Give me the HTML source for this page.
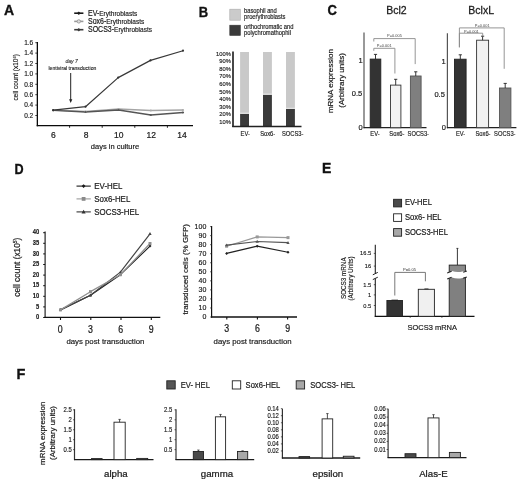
<!DOCTYPE html>
<html><head><meta charset="utf-8"><style>
html,body{margin:0;padding:0;background:#fff;width:520px;height:483px;overflow:hidden}
svg{display:block;font-family:"Liberation Sans", sans-serif}
svg{filter:blur(0.45px)}
</style></head><body>
<svg width="520" height="483" viewBox="0 0 520 483">
<text x="3.90" y="15.40" font-size="14" text-anchor="start" font-weight="bold" fill="#111" stroke="#111" stroke-width="0.336">A</text>
<line x1="74.20" y1="13.20" x2="83.40" y2="13.20" stroke="#1a1a1a" stroke-width="1.6"/>
<path d="M78.8 11.399999999999999 L80.6 13.2 L78.8 15.0 L77 13.2 Z" fill="#1a1a1a"/>
<text x="88.00" y="16.00" font-size="7" text-anchor="start" fill="#1a1a1a" stroke="#1a1a1a" stroke-width="0.168" transform="matrix(1 0 0 1.17 0 -2.720)">EV-</text>
<text x="99.28" y="15.70" font-size="6.5" text-anchor="start" fill="#1a1a1a" stroke="#1a1a1a" stroke-width="0.156">Erythroblasts</text>
<line x1="74.20" y1="21.40" x2="83.40" y2="21.40" stroke="#999" stroke-width="1.6"/>
<circle cx="78.8" cy="21.4" r="1.7" fill="#ddd" stroke="#999" stroke-width="0.9"/>
<text x="88.00" y="24.20" font-size="7" text-anchor="start" fill="#1a1a1a" stroke="#1a1a1a" stroke-width="0.168" transform="matrix(1 0 0 1.17 0 -4.114)">Sox6-</text>
<text x="106.28" y="23.90" font-size="6.5" text-anchor="start" fill="#1a1a1a" stroke="#1a1a1a" stroke-width="0.156">Erythroblasts</text>
<line x1="74.20" y1="29.70" x2="83.40" y2="29.70" stroke="#3a3a3a" stroke-width="1.6"/>
<path d="M78.8 27.900000000000002 L80.6 29.700000000000003 L78.8 31.500000000000004 L77 29.700000000000003 Z" fill="#3a3a3a"/>
<text x="88.00" y="32.50" font-size="7" text-anchor="start" fill="#1a1a1a" stroke="#1a1a1a" stroke-width="0.168" transform="matrix(1 0 0 1.17 0 -5.525)">SOCS3-</text>
<text x="114.06" y="32.20" font-size="6.5" text-anchor="start" fill="#1a1a1a" stroke="#1a1a1a" stroke-width="0.156">Erythroblasts</text>
<line x1="37.35" y1="42.00" x2="37.35" y2="126.20" stroke="#0a0a0a" stroke-width="1.3"/>
<line x1="36.70" y1="125.65" x2="193.00" y2="125.65" stroke="#0a0a0a" stroke-width="1.3"/>
<line x1="35.30" y1="115.50" x2="37.00" y2="115.50" stroke="#111" stroke-width="0.8"/>
<text x="33.20" y="117.80" font-size="6.5" text-anchor="end" fill="#1a1a1a" stroke="#1a1a1a" stroke-width="0.156">0.2</text>
<line x1="35.30" y1="105.10" x2="37.00" y2="105.10" stroke="#111" stroke-width="0.8"/>
<text x="33.20" y="107.40" font-size="6.5" text-anchor="end" fill="#1a1a1a" stroke="#1a1a1a" stroke-width="0.156">0.4</text>
<line x1="35.30" y1="94.70" x2="37.00" y2="94.70" stroke="#111" stroke-width="0.8"/>
<text x="33.20" y="97.00" font-size="6.5" text-anchor="end" fill="#1a1a1a" stroke="#1a1a1a" stroke-width="0.156">0.6</text>
<line x1="35.30" y1="84.30" x2="37.00" y2="84.30" stroke="#111" stroke-width="0.8"/>
<text x="33.20" y="86.60" font-size="6.5" text-anchor="end" fill="#1a1a1a" stroke="#1a1a1a" stroke-width="0.156">0.8</text>
<line x1="35.30" y1="73.90" x2="37.00" y2="73.90" stroke="#111" stroke-width="0.8"/>
<text x="33.20" y="76.20" font-size="6.5" text-anchor="end" fill="#1a1a1a" stroke="#1a1a1a" stroke-width="0.156">1.0</text>
<line x1="35.30" y1="63.50" x2="37.00" y2="63.50" stroke="#111" stroke-width="0.8"/>
<text x="33.20" y="65.80" font-size="6.5" text-anchor="end" fill="#1a1a1a" stroke="#1a1a1a" stroke-width="0.156">1.2</text>
<line x1="35.30" y1="53.10" x2="37.00" y2="53.10" stroke="#111" stroke-width="0.8"/>
<text x="33.20" y="55.40" font-size="6.5" text-anchor="end" fill="#1a1a1a" stroke="#1a1a1a" stroke-width="0.156">1.4</text>
<line x1="35.30" y1="42.70" x2="37.00" y2="42.70" stroke="#111" stroke-width="0.8"/>
<text x="33.20" y="45.00" font-size="6.5" text-anchor="end" fill="#1a1a1a" stroke="#1a1a1a" stroke-width="0.156">1.6</text>
<line x1="69.60" y1="125.60" x2="69.60" y2="127.80" stroke="#111" stroke-width="0.9"/>
<line x1="102.20" y1="125.60" x2="102.20" y2="127.80" stroke="#111" stroke-width="0.9"/>
<line x1="134.80" y1="125.60" x2="134.80" y2="127.80" stroke="#111" stroke-width="0.9"/>
<line x1="167.40" y1="125.60" x2="167.40" y2="127.80" stroke="#111" stroke-width="0.9"/>
<text x="53.30" y="138.00" font-size="8.5" text-anchor="middle" fill="#1a1a1a" stroke="#1a1a1a" stroke-width="0.204">6</text>
<text x="86.00" y="138.00" font-size="8.5" text-anchor="middle" fill="#1a1a1a" stroke="#1a1a1a" stroke-width="0.204">8</text>
<text x="118.70" y="138.00" font-size="8.5" text-anchor="middle" fill="#1a1a1a" stroke="#1a1a1a" stroke-width="0.204">10</text>
<text x="151.30" y="138.00" font-size="8.5" text-anchor="middle" fill="#1a1a1a" stroke="#1a1a1a" stroke-width="0.204">12</text>
<text x="182.00" y="138.00" font-size="8.5" text-anchor="middle" fill="#1a1a1a" stroke="#1a1a1a" stroke-width="0.204">14</text>
<text x="115.00" y="149.30" font-size="7.5" text-anchor="middle" fill="#1a1a1a" stroke="#1a1a1a" stroke-width="0.180">days in culture</text>
<text x="18.2" y="77.3" font-size="6.5" text-anchor="middle" fill="#1a1a1a" transform="rotate(-90 18.2 77.3)" stroke="#1a1a1a" stroke-width="0.156">cell count (x10<tspan font-size="4" dy="-2.5">6</tspan><tspan dy="2.5">)</tspan></text>
<line x1="70.70" y1="73.00" x2="70.70" y2="100.00" stroke="#222" stroke-width="1"/>
<path d="M69.1 99.2 L70.7 103 L72.3 99.2 Z" fill="#222" stroke="none" stroke-width="1"/>
<text x="71.70" y="63.20" font-size="5.1" text-anchor="middle" fill="#333" font-style="italic" stroke="#333" stroke-width="0.122">day 7</text>
<text x="72.40" y="69.50" font-size="5.1" text-anchor="middle" fill="#1a1a1a" stroke="#1a1a1a" stroke-width="0.122">lentiviral transduction</text>
<path d="M53.20 110.00 L85.50 111.50 L118.50 109.00 L150.80 110.50 L183.00 110.00" fill="none" stroke="#a5a5a5" stroke-width="1.3" stroke-linejoin="round"/>
<path d="M53.20 110.30 L85.50 112.00 L118.50 110.00 L150.80 115.00 L183.00 112.50" fill="none" stroke="#555" stroke-width="1.3" stroke-linejoin="round"/>
<path d="M53.20 110.20 L85.50 106.70 L118.20 77.60 L150.50 60.40 L183.00 50.70" fill="none" stroke="#383838" stroke-width="1.2" stroke-linejoin="round"/>
<circle cx="53.2" cy="110" r="1.1" fill="#aaa"/>
<circle cx="85.5" cy="111.5" r="1.1" fill="#aaa"/>
<circle cx="118.5" cy="109" r="1.1" fill="#aaa"/>
<circle cx="150.8" cy="110.5" r="1.1" fill="#aaa"/>
<circle cx="183" cy="110" r="1.1" fill="#aaa"/>
<circle cx="53.2" cy="110.3" r="1.1" fill="#555"/>
<circle cx="85.5" cy="112" r="1.1" fill="#555"/>
<circle cx="118.5" cy="110" r="1.1" fill="#555"/>
<circle cx="150.8" cy="115" r="1.1" fill="#555"/>
<circle cx="183" cy="112.5" r="1.1" fill="#555"/>
<circle cx="53.2" cy="110.2" r="1.1" fill="#333"/>
<circle cx="85.5" cy="106.7" r="1.1" fill="#333"/>
<circle cx="118.2" cy="77.6" r="1.1" fill="#333"/>
<circle cx="150.5" cy="60.4" r="1.1" fill="#333"/>
<circle cx="183" cy="50.7" r="1.1" fill="#333"/>
<text x="198.70" y="16.80" font-size="14.5" text-anchor="start" font-weight="bold" fill="#111" textLength="9.40" lengthAdjust="spacingAndGlyphs" stroke="#111" stroke-width="0.348">B</text>
<rect x="229.80" y="9.20" width="10.50" height="11.00" fill="#cbcbcb" stroke="#aaa" stroke-width="0.6"/>
<rect x="229.80" y="25.20" width="10.50" height="10.20" fill="#3a3a3a" stroke="#333" stroke-width="0.6"/>
<text x="244.00" y="12.80" font-size="5.8" text-anchor="start" fill="#1a1a1a" stroke="#1a1a1a" stroke-width="0.139" transform="matrix(1 0 0 1.1 0 -1.280)">basophil and</text>
<text x="244.00" y="19.30" font-size="5.8" text-anchor="start" fill="#1a1a1a" stroke="#1a1a1a" stroke-width="0.139" transform="matrix(1 0 0 1.1 0 -1.930)">proerythroblasts</text>
<text x="244.00" y="29.00" font-size="5.8" text-anchor="start" fill="#1a1a1a" stroke="#1a1a1a" stroke-width="0.139" transform="matrix(1 0 0 1.1 0 -2.900)">orthochromatic and</text>
<text x="244.00" y="35.40" font-size="5.8" text-anchor="start" fill="#1a1a1a" stroke="#1a1a1a" stroke-width="0.139" transform="matrix(1 0 0 1.1 0 -3.540)">polychromathophil</text>
<text x="230.90" y="55.70" font-size="5.8" text-anchor="end" fill="#1a1a1a" stroke="#1a1a1a" stroke-width="0.139">100%</text>
<text x="230.90" y="63.28" font-size="5.8" text-anchor="end" fill="#1a1a1a" stroke="#1a1a1a" stroke-width="0.139">90%</text>
<text x="230.90" y="70.86" font-size="5.8" text-anchor="end" fill="#1a1a1a" stroke="#1a1a1a" stroke-width="0.139">80%</text>
<text x="230.90" y="78.44" font-size="5.8" text-anchor="end" fill="#1a1a1a" stroke="#1a1a1a" stroke-width="0.139">70%</text>
<text x="230.90" y="86.02" font-size="5.8" text-anchor="end" fill="#1a1a1a" stroke="#1a1a1a" stroke-width="0.139">60%</text>
<text x="230.90" y="93.60" font-size="5.8" text-anchor="end" fill="#1a1a1a" stroke="#1a1a1a" stroke-width="0.139">50%</text>
<text x="230.90" y="101.18" font-size="5.8" text-anchor="end" fill="#1a1a1a" stroke="#1a1a1a" stroke-width="0.139">40%</text>
<text x="230.90" y="108.76" font-size="5.8" text-anchor="end" fill="#1a1a1a" stroke="#1a1a1a" stroke-width="0.139">30%</text>
<text x="230.90" y="116.34" font-size="5.8" text-anchor="end" fill="#1a1a1a" stroke="#1a1a1a" stroke-width="0.139">20%</text>
<text x="230.90" y="123.92" font-size="5.8" text-anchor="end" fill="#1a1a1a" stroke="#1a1a1a" stroke-width="0.139">10%</text>
<rect x="240.10" y="52.00" width="8.90" height="61.75" fill="#c9c9c9"/>
<rect x="240.10" y="113.75" width="8.90" height="12.25" fill="#3a3a3a"/>
<line x1="240.10" y1="113.25" x2="249.00" y2="113.25" stroke="#f6f6f6" stroke-width="0.9"/>
<rect x="263.00" y="52.00" width="8.90" height="42.70" fill="#c9c9c9"/>
<rect x="263.00" y="94.70" width="8.90" height="31.30" fill="#3a3a3a"/>
<line x1="263.00" y1="94.20" x2="271.90" y2="94.20" stroke="#f6f6f6" stroke-width="0.9"/>
<rect x="286.00" y="52.00" width="8.90" height="56.80" fill="#c9c9c9"/>
<rect x="286.00" y="108.80" width="8.90" height="17.20" fill="#3a3a3a"/>
<line x1="286.00" y1="108.30" x2="294.90" y2="108.30" stroke="#f6f6f6" stroke-width="0.9"/>
<line x1="233.00" y1="51.50" x2="233.00" y2="127.00" stroke="#333" stroke-width="1.8"/>
<line x1="232.20" y1="126.50" x2="301.50" y2="126.50" stroke="#222" stroke-width="1.4"/>
<text x="245.20" y="136.10" font-size="6.5" text-anchor="middle" fill="#1a1a1a" textLength="9.30" lengthAdjust="spacingAndGlyphs" stroke="#1a1a1a" stroke-width="0.156">EV-</text>
<text x="267.70" y="136.10" font-size="6.5" text-anchor="middle" fill="#1a1a1a" textLength="15.10" lengthAdjust="spacingAndGlyphs" stroke="#1a1a1a" stroke-width="0.156">Sox6-</text>
<text x="292.70" y="136.10" font-size="6.5" text-anchor="middle" fill="#1a1a1a" textLength="21.40" lengthAdjust="spacingAndGlyphs" stroke="#1a1a1a" stroke-width="0.156">SOCS3-</text>
<text x="327.50" y="14.80" font-size="14.5" text-anchor="start" font-weight="bold" fill="#111" textLength="9.40" lengthAdjust="spacingAndGlyphs" stroke="#111" stroke-width="0.348">C</text>
<text x="396.40" y="14.40" font-size="10.5" text-anchor="middle" fill="#1a1a1a" stroke="#1a1a1a" stroke-width="0.252">Bcl2</text>
<text x="481.20" y="13.80" font-size="10.5" text-anchor="middle" fill="#1a1a1a" stroke="#1a1a1a" stroke-width="0.252">BclxL</text>
<text x="333.5" y="81.1" font-size="8" text-anchor="middle" fill="#1a1a1a" transform="rotate(-90 333.5 81.1)" stroke="#1a1a1a" stroke-width="0.192">mRNA expression</text>
<text x="343.8" y="80.4" font-size="8" text-anchor="middle" fill="#1a1a1a" transform="rotate(-90 343.8 80.4)" stroke="#1a1a1a" stroke-width="0.192">(Arbitrary units)</text>
<line x1="364.00" y1="32.50" x2="364.00" y2="128.20" stroke="#555" stroke-width="1.2"/>
<line x1="363.50" y1="127.70" x2="426.50" y2="127.70" stroke="#222" stroke-width="1.2"/>
<rect x="370.20" y="59.10" width="10.60" height="68.60" fill="#333" stroke="#222" stroke-width="0.9"/>
<line x1="375.50" y1="54.40" x2="375.50" y2="59.10" stroke="#222" stroke-width="0.9"/>
<line x1="373.90" y1="54.40" x2="377.10" y2="54.40" stroke="#222" stroke-width="0.9"/>
<rect x="390.50" y="85.10" width="10.40" height="42.60" fill="#f2f2f2" stroke="#333" stroke-width="0.9"/>
<line x1="395.70" y1="79.30" x2="395.70" y2="85.10" stroke="#222" stroke-width="0.9"/>
<line x1="394.10" y1="79.30" x2="397.30" y2="79.30" stroke="#222" stroke-width="0.9"/>
<rect x="410.40" y="76.00" width="10.70" height="51.70" fill="#7f7f7f" stroke="#555" stroke-width="0.9"/>
<line x1="415.75" y1="71.80" x2="415.75" y2="76.00" stroke="#222" stroke-width="0.9"/>
<line x1="414.15" y1="71.80" x2="417.35" y2="71.80" stroke="#222" stroke-width="0.9"/>
<path d="M373.8 41.5 L373.8 38.6 L415.2 38.6 L415.2 64.1" fill="none" stroke="#8a8a8a" stroke-width="0.9"/>
<text x="394.50" y="37.40" font-size="3.95" text-anchor="middle" fill="#444" stroke="none" transform="matrix(1 0 0 1.1 0 -3.740)">P=0.005</text>
<path d="M373.8 50.8 L373.8 48.3 L394.9 48.3 L394.9 73.5" fill="none" stroke="#8a8a8a" stroke-width="0.9"/>
<text x="384.20" y="47.40" font-size="3.95" text-anchor="middle" fill="#444" stroke="none" transform="matrix(1 0 0 1.1 0 -4.740)">P=0.001</text>
<text x="375.00" y="136.30" font-size="6.5" text-anchor="middle" fill="#1a1a1a" textLength="9.30" lengthAdjust="spacingAndGlyphs" stroke="#1a1a1a" stroke-width="0.156">EV-</text>
<text x="396.90" y="136.30" font-size="6.5" text-anchor="middle" fill="#1a1a1a" textLength="15.10" lengthAdjust="spacingAndGlyphs" stroke="#1a1a1a" stroke-width="0.156">Sox6-</text>
<text x="418.30" y="136.30" font-size="6.5" text-anchor="middle" fill="#1a1a1a" textLength="21.40" lengthAdjust="spacingAndGlyphs" stroke="#1a1a1a" stroke-width="0.156">SOCS3-</text>
<text x="362.60" y="63.10" font-size="7.5" text-anchor="end" fill="#1a1a1a" stroke="#1a1a1a" stroke-width="0.180">1</text>
<text x="362.30" y="95.60" font-size="7.5" text-anchor="end" fill="#1a1a1a" stroke="#1a1a1a" stroke-width="0.180">0.5</text>
<text x="362.60" y="129.70" font-size="7.5" text-anchor="end" fill="#1a1a1a" stroke="#1a1a1a" stroke-width="0.180">0</text>
<line x1="447.40" y1="33.20" x2="447.40" y2="128.20" stroke="#555" stroke-width="1.2"/>
<line x1="446.90" y1="127.70" x2="516.40" y2="127.70" stroke="#222" stroke-width="1.2"/>
<rect x="454.50" y="59.20" width="11.60" height="68.50" fill="#333" stroke="#222" stroke-width="0.9"/>
<line x1="460.30" y1="54.80" x2="460.30" y2="59.20" stroke="#222" stroke-width="0.9"/>
<line x1="458.70" y1="54.80" x2="461.90" y2="54.80" stroke="#222" stroke-width="0.9"/>
<rect x="476.60" y="40.20" width="12.00" height="87.50" fill="#f2f2f2" stroke="#333" stroke-width="0.9"/>
<line x1="482.60" y1="36.20" x2="482.60" y2="40.20" stroke="#222" stroke-width="0.9"/>
<line x1="481.00" y1="36.20" x2="484.20" y2="36.20" stroke="#222" stroke-width="0.9"/>
<rect x="499.50" y="88.00" width="11.40" height="39.70" fill="#7f7f7f" stroke="#555" stroke-width="0.9"/>
<line x1="505.20" y1="83.40" x2="505.20" y2="88.00" stroke="#222" stroke-width="0.9"/>
<line x1="503.60" y1="83.40" x2="506.80" y2="83.40" stroke="#222" stroke-width="0.9"/>
<path d="M459.4 47.3 L459.4 27.9 L504.2 27.9 L504.2 68.8" fill="none" stroke="#8a8a8a" stroke-width="0.9"/>
<text x="482.20" y="26.90" font-size="3.95" text-anchor="middle" fill="#444" stroke="none" transform="matrix(1 0 0 1.1 0 -2.690)">P=0.001</text>
<path d="M459.4 47.3 L459.4 33.2 L482.7 33.2 L482.7 36.4" fill="none" stroke="#8a8a8a" stroke-width="0.9"/>
<text x="471.40" y="32.80" font-size="3.95" text-anchor="middle" fill="#444" stroke="none" transform="matrix(1 0 0 1.1 0 -3.280)">P=0.001</text>
<text x="460.60" y="136.30" font-size="6.5" text-anchor="middle" fill="#1a1a1a" textLength="9.30" lengthAdjust="spacingAndGlyphs" stroke="#1a1a1a" stroke-width="0.156">EV-</text>
<text x="483.00" y="136.30" font-size="6.5" text-anchor="middle" fill="#1a1a1a" textLength="15.10" lengthAdjust="spacingAndGlyphs" stroke="#1a1a1a" stroke-width="0.156">Sox6-</text>
<text x="504.80" y="136.30" font-size="6.5" text-anchor="middle" fill="#1a1a1a" textLength="21.40" lengthAdjust="spacingAndGlyphs" stroke="#1a1a1a" stroke-width="0.156">SOCS3-</text>
<text x="445.60" y="64.00" font-size="7.5" text-anchor="end" fill="#1a1a1a" stroke="#1a1a1a" stroke-width="0.180">1</text>
<text x="444.90" y="96.90" font-size="7.5" text-anchor="end" fill="#1a1a1a" stroke="#1a1a1a" stroke-width="0.180">0.5</text>
<text x="445.90" y="130.10" font-size="7.5" text-anchor="end" fill="#1a1a1a" stroke="#1a1a1a" stroke-width="0.180">0</text>
<text x="14.50" y="174.40" font-size="14.5" text-anchor="start" font-weight="bold" fill="#111" textLength="9.10" lengthAdjust="spacingAndGlyphs" stroke="#111" stroke-width="0.348">D</text>
<line x1="76.50" y1="186.10" x2="90.80" y2="186.10" stroke="#1a1a1a" stroke-width="1.1"/>
<path d="M83.6 184.2 L85.5 186.1 L83.6 188.0 L81.69999999999999 186.1 Z" fill="#1a1a1a"/>
<text x="94.30" y="188.90" font-size="7.9" text-anchor="start" fill="#1a1a1a" stroke="#1a1a1a" stroke-width="0.190" transform="matrix(1 0 0 1.1 0 -18.890)">EV-HEL</text>
<line x1="76.50" y1="198.90" x2="90.80" y2="198.90" stroke="#9a9a9a" stroke-width="1.1"/>
<rect x="81.69999999999999" y="197.0" width="3.8" height="3.8" fill="#8a8a8a"/>
<text x="94.30" y="201.70" font-size="7.9" text-anchor="start" fill="#1a1a1a" stroke="#1a1a1a" stroke-width="0.190" transform="matrix(1 0 0 1.1 0 -20.170)">Sox6-HEL</text>
<line x1="76.50" y1="211.90" x2="90.80" y2="211.90" stroke="#333" stroke-width="1.1"/>
<path d="M83.6 209.81 L85.69 213.42000000000002 L81.50999999999999 213.42000000000002 Z" fill="#333"/>
<text x="94.30" y="214.70" font-size="7.9" text-anchor="start" fill="#1a1a1a" stroke="#1a1a1a" stroke-width="0.190" transform="matrix(1 0 0 1.1 0 -21.470)">SOCS3-HEL</text>
<line x1="45.10" y1="231.60" x2="45.10" y2="318.00" stroke="#111" stroke-width="1.1"/>
<line x1="44.30" y1="317.40" x2="160.30" y2="317.40" stroke="#111" stroke-width="1.3"/>
<line x1="43.20" y1="317.50" x2="45.10" y2="317.50" stroke="#111" stroke-width="1.0"/>
<text x="39.20" y="319.30" font-size="5.8" text-anchor="end" font-weight="bold" fill="#1a1a1a" stroke="#1a1a1a" stroke-width="0.139" transform="matrix(1 0 0 1.2 0 -63.860)">0</text>
<line x1="43.20" y1="306.90" x2="45.10" y2="306.90" stroke="#111" stroke-width="1.0"/>
<text x="39.20" y="308.70" font-size="5.8" text-anchor="end" font-weight="bold" fill="#1a1a1a" stroke="#1a1a1a" stroke-width="0.139" transform="matrix(1 0 0 1.2 0 -61.740)">5</text>
<line x1="43.20" y1="296.30" x2="45.10" y2="296.30" stroke="#111" stroke-width="1.0"/>
<text x="39.20" y="298.10" font-size="5.8" text-anchor="end" font-weight="bold" fill="#1a1a1a" stroke="#1a1a1a" stroke-width="0.139" transform="matrix(1 0 0 1.2 0 -59.620)">10</text>
<line x1="43.20" y1="285.70" x2="45.10" y2="285.70" stroke="#111" stroke-width="1.0"/>
<text x="39.20" y="287.50" font-size="5.8" text-anchor="end" font-weight="bold" fill="#1a1a1a" stroke="#1a1a1a" stroke-width="0.139" transform="matrix(1 0 0 1.2 0 -57.500)">15</text>
<line x1="43.20" y1="275.10" x2="45.10" y2="275.10" stroke="#111" stroke-width="1.0"/>
<text x="39.20" y="276.90" font-size="5.8" text-anchor="end" font-weight="bold" fill="#1a1a1a" stroke="#1a1a1a" stroke-width="0.139" transform="matrix(1 0 0 1.2 0 -55.380)">20</text>
<line x1="43.20" y1="264.50" x2="45.10" y2="264.50" stroke="#111" stroke-width="1.0"/>
<text x="39.20" y="266.30" font-size="5.8" text-anchor="end" font-weight="bold" fill="#1a1a1a" stroke="#1a1a1a" stroke-width="0.139" transform="matrix(1 0 0 1.2 0 -53.260)">25</text>
<line x1="43.20" y1="253.90" x2="45.10" y2="253.90" stroke="#111" stroke-width="1.0"/>
<text x="39.20" y="255.70" font-size="5.8" text-anchor="end" font-weight="bold" fill="#1a1a1a" stroke="#1a1a1a" stroke-width="0.139" transform="matrix(1 0 0 1.2 0 -51.140)">30</text>
<line x1="43.20" y1="243.30" x2="45.10" y2="243.30" stroke="#111" stroke-width="1.0"/>
<text x="39.20" y="245.10" font-size="5.8" text-anchor="end" font-weight="bold" fill="#1a1a1a" stroke="#1a1a1a" stroke-width="0.139" transform="matrix(1 0 0 1.2 0 -49.020)">35</text>
<line x1="43.20" y1="232.70" x2="45.10" y2="232.70" stroke="#111" stroke-width="1.0"/>
<text x="39.20" y="234.50" font-size="5.8" text-anchor="end" font-weight="bold" fill="#1a1a1a" stroke="#1a1a1a" stroke-width="0.139" transform="matrix(1 0 0 1.2 0 -46.900)">40</text>
<line x1="60.50" y1="317.40" x2="60.50" y2="320.00" stroke="#111" stroke-width="1.1"/>
<text x="60.30" y="332.70" font-size="8.8" text-anchor="middle" fill="#1a1a1a" stroke="#1a1a1a" stroke-width="0.211" transform="matrix(1 0 0 1.15 0 -49.905)">0</text>
<line x1="90.80" y1="317.40" x2="90.80" y2="320.00" stroke="#111" stroke-width="1.1"/>
<text x="90.50" y="332.70" font-size="8.8" text-anchor="middle" fill="#1a1a1a" stroke="#1a1a1a" stroke-width="0.211" transform="matrix(1 0 0 1.15 0 -49.905)">3</text>
<line x1="121.00" y1="317.40" x2="121.00" y2="320.00" stroke="#111" stroke-width="1.1"/>
<text x="120.70" y="332.70" font-size="8.8" text-anchor="middle" fill="#1a1a1a" stroke="#1a1a1a" stroke-width="0.211" transform="matrix(1 0 0 1.15 0 -49.905)">6</text>
<line x1="151.30" y1="317.40" x2="151.30" y2="320.00" stroke="#111" stroke-width="1.1"/>
<text x="151.30" y="332.70" font-size="8.8" text-anchor="middle" fill="#1a1a1a" stroke="#1a1a1a" stroke-width="0.211" transform="matrix(1 0 0 1.15 0 -49.905)">9</text>
<text x="105.40" y="344.30" font-size="7.8" text-anchor="middle" fill="#1a1a1a" stroke="#1a1a1a" stroke-width="0.187">days post transduction</text>
<text x="20.3" y="267.2" font-size="8.3" text-anchor="middle" fill="#1a1a1a" transform="rotate(-90 20.3 267.2)" stroke="#1a1a1a" stroke-width="0.199">cell count (x10<tspan font-size="5" dy="-3">5</tspan><tspan dy="3">)</tspan></text>
<path d="M60.50 309.87 L90.50 295.24 L120.40 274.68 L150.00 246.06" fill="none" stroke="#222" stroke-width="1.2" stroke-linejoin="round"/>
<path d="M60.5 308.368 L62.0 309.868 L60.5 311.368 L59.0 309.868 Z" fill="#222"/>
<path d="M90.5 293.74 L92.0 295.24 L90.5 296.74 L89.0 295.24 Z" fill="#222"/>
<path d="M120.4 273.176 L121.9 274.676 L120.4 276.176 L118.9 274.676 Z" fill="#222"/>
<path d="M150.0 244.55599999999998 L151.5 246.05599999999998 L150.0 247.55599999999998 L148.5 246.05599999999998 Z" fill="#222"/>
<path d="M60.50 309.87 L90.50 295.24 L120.40 272.13 L150.00 233.76" fill="none" stroke="#444" stroke-width="1.2" stroke-linejoin="round"/>
<path d="M60.5 308.218 L62.15 311.068 L58.85 311.068 Z" fill="#444"/>
<path d="M90.5 293.59000000000003 L92.15 296.44 L88.85 296.44 Z" fill="#444"/>
<path d="M120.4 270.482 L122.05000000000001 273.332 L118.75 273.332 Z" fill="#444"/>
<path d="M150.0 232.10999999999999 L151.65 234.95999999999998 L148.35 234.95999999999998 Z" fill="#444"/>
<path d="M60.50 309.87 L90.50 291.64 L120.40 274.68 L150.00 243.51" fill="none" stroke="#8f8f8f" stroke-width="1.2" stroke-linejoin="round"/>
<rect x="59.0" y="308.368" width="3.0" height="3.0" fill="#8f8f8f"/>
<rect x="89.0" y="290.136" width="3.0" height="3.0" fill="#8f8f8f"/>
<rect x="118.9" y="273.176" width="3.0" height="3.0" fill="#8f8f8f"/>
<rect x="148.5" y="242.012" width="3.0" height="3.0" fill="#8f8f8f"/>
<line x1="211.60" y1="226.10" x2="211.60" y2="317.50" stroke="#111" stroke-width="1.2"/>
<line x1="211.00" y1="317.00" x2="297.00" y2="317.00" stroke="#111" stroke-width="1.3"/>
<line x1="210.20" y1="317.00" x2="211.80" y2="317.00" stroke="#222" stroke-width="0.8"/>
<text x="206.30" y="319.45" font-size="7" text-anchor="end" fill="#1a1a1a" stroke="#1a1a1a" stroke-width="0.168">0</text>
<line x1="210.20" y1="307.96" x2="211.80" y2="307.96" stroke="#222" stroke-width="0.8"/>
<text x="206.30" y="310.41" font-size="7" text-anchor="end" fill="#1a1a1a" stroke="#1a1a1a" stroke-width="0.168">10</text>
<line x1="210.20" y1="298.92" x2="211.80" y2="298.92" stroke="#222" stroke-width="0.8"/>
<text x="206.30" y="301.37" font-size="7" text-anchor="end" fill="#1a1a1a" stroke="#1a1a1a" stroke-width="0.168">20</text>
<line x1="210.20" y1="289.88" x2="211.80" y2="289.88" stroke="#222" stroke-width="0.8"/>
<text x="206.30" y="292.33" font-size="7" text-anchor="end" fill="#1a1a1a" stroke="#1a1a1a" stroke-width="0.168">30</text>
<line x1="210.20" y1="280.84" x2="211.80" y2="280.84" stroke="#222" stroke-width="0.8"/>
<text x="206.30" y="283.29" font-size="7" text-anchor="end" fill="#1a1a1a" stroke="#1a1a1a" stroke-width="0.168">40</text>
<line x1="210.20" y1="271.80" x2="211.80" y2="271.80" stroke="#222" stroke-width="0.8"/>
<text x="206.30" y="274.25" font-size="7" text-anchor="end" fill="#1a1a1a" stroke="#1a1a1a" stroke-width="0.168">50</text>
<line x1="210.20" y1="262.76" x2="211.80" y2="262.76" stroke="#222" stroke-width="0.8"/>
<text x="206.30" y="265.21" font-size="7" text-anchor="end" fill="#1a1a1a" stroke="#1a1a1a" stroke-width="0.168">60</text>
<line x1="210.20" y1="253.72" x2="211.80" y2="253.72" stroke="#222" stroke-width="0.8"/>
<text x="206.30" y="256.17" font-size="7" text-anchor="end" fill="#1a1a1a" stroke="#1a1a1a" stroke-width="0.168">70</text>
<line x1="210.20" y1="244.68" x2="211.80" y2="244.68" stroke="#222" stroke-width="0.8"/>
<text x="206.30" y="247.13" font-size="7" text-anchor="end" fill="#1a1a1a" stroke="#1a1a1a" stroke-width="0.168">80</text>
<line x1="210.20" y1="235.64" x2="211.80" y2="235.64" stroke="#222" stroke-width="0.8"/>
<text x="206.30" y="238.09" font-size="7" text-anchor="end" fill="#1a1a1a" stroke="#1a1a1a" stroke-width="0.168">90</text>
<line x1="210.20" y1="226.60" x2="211.80" y2="226.60" stroke="#222" stroke-width="0.8"/>
<text x="206.30" y="229.05" font-size="7" text-anchor="end" fill="#1a1a1a" stroke="#1a1a1a" stroke-width="0.168">100</text>
<line x1="226.80" y1="317.00" x2="226.80" y2="319.60" stroke="#111" stroke-width="1.1"/>
<text x="226.80" y="331.80" font-size="8.8" text-anchor="middle" fill="#1a1a1a" stroke="#1a1a1a" stroke-width="0.211" transform="matrix(1 0 0 1.15 0 -49.770)">3</text>
<line x1="257.40" y1="317.00" x2="257.40" y2="319.60" stroke="#111" stroke-width="1.1"/>
<text x="257.40" y="331.80" font-size="8.8" text-anchor="middle" fill="#1a1a1a" stroke="#1a1a1a" stroke-width="0.211" transform="matrix(1 0 0 1.15 0 -49.770)">6</text>
<line x1="287.60" y1="317.00" x2="287.60" y2="319.60" stroke="#111" stroke-width="1.1"/>
<text x="287.60" y="331.80" font-size="8.8" text-anchor="middle" fill="#1a1a1a" stroke="#1a1a1a" stroke-width="0.211" transform="matrix(1 0 0 1.15 0 -49.770)">9</text>
<text x="252.60" y="344.00" font-size="7.8" text-anchor="middle" fill="#1a1a1a" stroke="#1a1a1a" stroke-width="0.187">days post transduction</text>
<text x="187.6" y="269.3" font-size="7.95" text-anchor="middle" fill="#1a1a1a" transform="rotate(-90 187.6 269.3)" stroke="#1a1a1a" stroke-width="0.191">transduced cells (% GFP)</text>
<path d="M226.60 246.22 L257.20 236.91 L288.00 237.63" fill="none" stroke="#999" stroke-width="1.2" stroke-linejoin="round"/>
<rect x="225.1" y="244.7168" width="3.0" height="3.0" fill="#999"/>
<rect x="255.7" y="235.4056" width="3.0" height="3.0" fill="#999"/>
<rect x="286.5" y="236.1288" width="3.0" height="3.0" fill="#999"/>
<path d="M226.60 245.04 L257.20 241.52 L288.00 242.69" fill="none" stroke="#555" stroke-width="1.2" stroke-linejoin="round"/>
<path d="M226.6 243.3916 L228.25 246.2416 L224.95 246.2416 Z" fill="#555"/>
<path d="M257.2 239.86599999999999 L258.84999999999997 242.71599999999998 L255.54999999999998 242.71599999999998 Z" fill="#555"/>
<path d="M288.0 241.04119999999998 L289.65 243.89119999999997 L286.35 243.89119999999997 Z" fill="#555"/>
<path d="M226.60 253.45 L257.20 246.13 L288.00 252.27" fill="none" stroke="#222" stroke-width="1.2" stroke-linejoin="round"/>
<path d="M226.6 251.9488 L228.1 253.4488 L226.6 254.9488 L225.1 253.4488 Z" fill="#222"/>
<path d="M257.2 244.6264 L258.7 246.1264 L257.2 247.6264 L255.7 246.1264 Z" fill="#222"/>
<path d="M288.0 250.7736 L289.5 252.2736 L288.0 253.7736 L286.5 252.2736 Z" fill="#222"/>
<text x="322.00" y="173.10" font-size="15" text-anchor="start" font-weight="bold" fill="#111" textLength="9.34" lengthAdjust="spacingAndGlyphs" stroke="#111" stroke-width="0.360">E</text>
<rect x="393.60" y="199.30" width="8.00" height="7.60" fill="#4a4a4a" stroke="#222" stroke-width="0.9"/>
<text x="404.90" y="205.30" font-size="7.6" text-anchor="start" fill="#1a1a1a" stroke="#1a1a1a" stroke-width="0.182" transform="matrix(1 0 0 1.1 0 -20.530)">EV-HEL</text>
<rect x="393.60" y="213.80" width="8.00" height="7.60" fill="#ffffff" stroke="#222" stroke-width="0.9"/>
<text x="404.90" y="219.80" font-size="7.6" text-anchor="start" fill="#1a1a1a" stroke="#1a1a1a" stroke-width="0.182" transform="matrix(1 0 0 1.1 0 -21.980)">Sox6- HEL</text>
<rect x="393.60" y="228.60" width="8.00" height="7.60" fill="#a8a8a8" stroke="#222" stroke-width="0.9"/>
<text x="404.90" y="234.60" font-size="7.6" text-anchor="start" fill="#1a1a1a" stroke="#1a1a1a" stroke-width="0.182" transform="matrix(1 0 0 1.1 0 -23.460)">SOCS3-HEL</text>
<line x1="375.30" y1="244.70" x2="375.30" y2="273.30" stroke="#222" stroke-width="1.1"/>
<line x1="375.30" y1="278.40" x2="375.30" y2="316.80" stroke="#222" stroke-width="1.1"/>
<path d="M372.8 274.8 L377.8 272.4" fill="none" stroke="#222" stroke-width="1"/>
<path d="M372.8 279.6 L377.8 277.2" fill="none" stroke="#222" stroke-width="1"/>
<line x1="374.70" y1="316.30" x2="474.50" y2="316.30" stroke="#111" stroke-width="1.3"/>
<line x1="410.20" y1="316.30" x2="410.20" y2="317.80" stroke="#222" stroke-width="0.8"/>
<line x1="441.90" y1="316.30" x2="441.90" y2="317.80" stroke="#222" stroke-width="0.8"/>
<line x1="373.80" y1="253.40" x2="375.30" y2="253.40" stroke="#222" stroke-width="0.7"/>
<text x="371.20" y="255.40" font-size="5.7" text-anchor="end" fill="#1a1a1a" stroke="#1a1a1a" stroke-width="0.137">16.5</text>
<line x1="373.80" y1="266.10" x2="375.30" y2="266.10" stroke="#222" stroke-width="0.7"/>
<text x="371.20" y="268.10" font-size="5.7" text-anchor="end" fill="#1a1a1a" stroke="#1a1a1a" stroke-width="0.137">16</text>
<line x1="373.80" y1="284.70" x2="375.30" y2="284.70" stroke="#222" stroke-width="0.7"/>
<text x="371.20" y="286.70" font-size="5.7" text-anchor="end" fill="#1a1a1a" stroke="#1a1a1a" stroke-width="0.137">1.5</text>
<line x1="373.80" y1="294.90" x2="375.30" y2="294.90" stroke="#222" stroke-width="0.7"/>
<text x="371.20" y="296.90" font-size="5.7" text-anchor="end" fill="#1a1a1a" stroke="#1a1a1a" stroke-width="0.137">1</text>
<line x1="373.80" y1="305.50" x2="375.30" y2="305.50" stroke="#222" stroke-width="0.7"/>
<text x="371.20" y="307.50" font-size="5.7" text-anchor="end" fill="#1a1a1a" stroke="#1a1a1a" stroke-width="0.137">0.5</text>
<rect x="386.90" y="300.50" width="15.60" height="15.80" fill="#333" stroke="#222" stroke-width="0.9"/>
<line x1="391.50" y1="300.10" x2="398.00" y2="300.10" stroke="#222" stroke-width="0.8"/>
<rect x="418.30" y="289.30" width="16.10" height="27.00" fill="#f0f0f0" stroke="#222" stroke-width="0.9"/>
<line x1="424.40" y1="288.90" x2="428.50" y2="288.90" stroke="#222" stroke-width="0.8"/>
<rect x="449.20" y="265.10" width="16.20" height="8.00" fill="#8a8a8a" stroke="#222" stroke-width="0.9"/>
<rect x="449.20" y="276.00" width="16.20" height="40.30" fill="#808080" stroke="#222" stroke-width="0.9"/>
<path d="M446 273.2 L452 271.0 Q457 272.6 462.5 271.4 L468 270.4 L468 276.4 L462.5 278.0 Q457 279.2 452 277.6 L446 279.6 Z" fill="#fff" stroke="none" stroke-width="1"/>
<path d="M447.2 272.9 L451.6 271.3" fill="none" stroke="#222" stroke-width="1.1"/>
<path d="M463.2 272.2 L466.8 271.0" fill="none" stroke="#222" stroke-width="1.1"/>
<path d="M447.2 279.0 L451.6 277.2" fill="none" stroke="#222" stroke-width="1.1"/>
<path d="M463.2 278.3 L466.8 276.9" fill="none" stroke="#222" stroke-width="1.1"/>
<line x1="457.40" y1="248.40" x2="457.40" y2="265.10" stroke="#222" stroke-width="0.9"/>
<line x1="456.40" y1="248.40" x2="458.40" y2="248.40" stroke="#222" stroke-width="0.8"/>
<path d="M394.8 295.5 L394.8 272.4 L425.4 272.4 L425.4 281.3" fill="none" stroke="#6a6a6a" stroke-width="0.9"/>
<text x="409.50" y="271.00" font-size="4.1" text-anchor="middle" fill="#333" stroke="none">P=0.05</text>
<text x="432.20" y="330.00" font-size="7.5" text-anchor="middle" fill="#1a1a1a" stroke="#1a1a1a" stroke-width="0.180" transform="matrix(1 0 0 1.08 0 -26.400)">SOCS3 mRNA</text>
<text x="346.2" y="278.2" font-size="6.3" text-anchor="middle" fill="#1a1a1a" transform="rotate(-90 346.2 278.2)" stroke="#1a1a1a" stroke-width="0.151">SOCS3 mRNA</text>
<text x="353.4" y="278.5" font-size="6.3" text-anchor="middle" fill="#1a1a1a" transform="rotate(-90 353.4 278.5)" stroke="#1a1a1a" stroke-width="0.151">(Arbitrary Units)</text>
<text x="16.50" y="378.50" font-size="14.5" text-anchor="start" font-weight="bold" fill="#111" stroke="#111" stroke-width="0.348">F</text>
<rect x="166.80" y="380.80" width="8.40" height="8.20" fill="#555555" stroke="#222" stroke-width="0.9"/>
<text x="180.80" y="387.60" font-size="7.6" text-anchor="start" fill="#1a1a1a" stroke="#1a1a1a" stroke-width="0.182" transform="matrix(1 0 0 1.1 0 -38.760)">EV- HEL</text>
<rect x="232.30" y="380.80" width="8.40" height="8.20" fill="#ffffff" stroke="#222" stroke-width="0.9"/>
<text x="245.60" y="387.60" font-size="7.6" text-anchor="start" fill="#1a1a1a" stroke="#1a1a1a" stroke-width="0.182" transform="matrix(1 0 0 1.1 0 -38.760)">Sox6-HEL</text>
<rect x="296.20" y="380.80" width="8.40" height="8.20" fill="#a8a8a8" stroke="#222" stroke-width="0.9"/>
<text x="310.20" y="387.60" font-size="7.6" text-anchor="start" fill="#1a1a1a" stroke="#1a1a1a" stroke-width="0.182" transform="matrix(1 0 0 1.1 0 -38.760)">SOCS3- HEL</text>
<text x="44.8" y="433.3" font-size="7.9" text-anchor="middle" fill="#1a1a1a" transform="rotate(-90 44.8 433.3)" stroke="#1a1a1a" stroke-width="0.190">mRNA expression</text>
<text x="55.0" y="433.0" font-size="7.9" text-anchor="middle" fill="#1a1a1a" transform="rotate(-90 55.0 433.0)" stroke="#1a1a1a" stroke-width="0.190">(Arbitrary units)</text>
<line x1="74.50" y1="409.20" x2="74.50" y2="460.10" stroke="#333" stroke-width="1.2"/>
<line x1="74.00" y1="459.60" x2="153.50" y2="459.60" stroke="#1a1a1a" stroke-width="1.4"/>
<line x1="73.00" y1="409.85" x2="74.50" y2="409.85" stroke="#222" stroke-width="0.7"/>
<text x="71.80" y="411.95" font-size="5.9" text-anchor="end" fill="#1a1a1a" stroke="#1a1a1a" stroke-width="0.142" transform="matrix(1 0 0 1.1 0 -41.195)">2.5</text>
<line x1="73.00" y1="419.80" x2="74.50" y2="419.80" stroke="#222" stroke-width="0.7"/>
<text x="71.80" y="421.90" font-size="5.9" text-anchor="end" fill="#1a1a1a" stroke="#1a1a1a" stroke-width="0.142" transform="matrix(1 0 0 1.1 0 -42.190)">2</text>
<line x1="73.00" y1="429.75" x2="74.50" y2="429.75" stroke="#222" stroke-width="0.7"/>
<text x="71.80" y="431.85" font-size="5.9" text-anchor="end" fill="#1a1a1a" stroke="#1a1a1a" stroke-width="0.142" transform="matrix(1 0 0 1.1 0 -43.185)">1.5</text>
<line x1="73.00" y1="439.70" x2="74.50" y2="439.70" stroke="#222" stroke-width="0.7"/>
<text x="71.80" y="441.80" font-size="5.9" text-anchor="end" fill="#1a1a1a" stroke="#1a1a1a" stroke-width="0.142" transform="matrix(1 0 0 1.1 0 -44.180)">1</text>
<line x1="73.00" y1="449.65" x2="74.50" y2="449.65" stroke="#222" stroke-width="0.7"/>
<text x="71.80" y="451.75" font-size="5.9" text-anchor="end" fill="#1a1a1a" stroke="#1a1a1a" stroke-width="0.142" transform="matrix(1 0 0 1.1 0 -45.175)">0.5</text>
<rect x="91.50" y="458.61" width="10.60" height="1.00" fill="#4a4a4a" stroke="#222" stroke-width="0.9"/>
<rect x="114.00" y="422.19" width="11.20" height="37.41" fill="#fff" stroke="#222" stroke-width="0.9"/>
<line x1="119.60" y1="419.40" x2="119.60" y2="422.19" stroke="#222" stroke-width="0.8"/>
<line x1="118.40" y1="419.40" x2="120.80" y2="419.40" stroke="#222" stroke-width="0.7"/>
<rect x="136.70" y="458.41" width="11.00" height="1.19" fill="#a8a8a8" stroke="#222" stroke-width="0.9"/>
<text x="115.90" y="477.00" font-size="9.7" text-anchor="middle" fill="#1a1a1a" stroke="#1a1a1a" stroke-width="0.233">alpha</text>
<line x1="176.00" y1="409.20" x2="176.00" y2="460.10" stroke="#333" stroke-width="1.2"/>
<line x1="175.50" y1="459.60" x2="254.20" y2="459.60" stroke="#1a1a1a" stroke-width="1.4"/>
<line x1="174.50" y1="409.85" x2="176.00" y2="409.85" stroke="#222" stroke-width="0.7"/>
<text x="172.20" y="411.95" font-size="5.9" text-anchor="end" fill="#1a1a1a" stroke="#1a1a1a" stroke-width="0.142" transform="matrix(1 0 0 1.1 0 -41.195)">2.5</text>
<line x1="174.50" y1="419.80" x2="176.00" y2="419.80" stroke="#222" stroke-width="0.7"/>
<text x="172.20" y="421.90" font-size="5.9" text-anchor="end" fill="#1a1a1a" stroke="#1a1a1a" stroke-width="0.142" transform="matrix(1 0 0 1.1 0 -42.190)">2</text>
<line x1="174.50" y1="429.75" x2="176.00" y2="429.75" stroke="#222" stroke-width="0.7"/>
<text x="172.20" y="431.85" font-size="5.9" text-anchor="end" fill="#1a1a1a" stroke="#1a1a1a" stroke-width="0.142" transform="matrix(1 0 0 1.1 0 -43.185)">1.5</text>
<line x1="174.50" y1="439.70" x2="176.00" y2="439.70" stroke="#222" stroke-width="0.7"/>
<text x="172.20" y="441.80" font-size="5.9" text-anchor="end" fill="#1a1a1a" stroke="#1a1a1a" stroke-width="0.142" transform="matrix(1 0 0 1.1 0 -44.180)">1</text>
<line x1="174.50" y1="449.65" x2="176.00" y2="449.65" stroke="#222" stroke-width="0.7"/>
<text x="172.20" y="451.75" font-size="5.9" text-anchor="end" fill="#1a1a1a" stroke="#1a1a1a" stroke-width="0.142" transform="matrix(1 0 0 1.1 0 -45.175)">0.5</text>
<rect x="193.30" y="451.44" width="10.20" height="8.16" fill="#4a4a4a" stroke="#222" stroke-width="0.9"/>
<line x1="198.40" y1="450.05" x2="198.40" y2="451.44" stroke="#222" stroke-width="0.8"/>
<line x1="197.20" y1="450.05" x2="199.60" y2="450.05" stroke="#222" stroke-width="0.7"/>
<rect x="215.40" y="416.82" width="10.20" height="42.78" fill="#fff" stroke="#222" stroke-width="0.9"/>
<line x1="220.50" y1="414.43" x2="220.50" y2="416.82" stroke="#222" stroke-width="0.8"/>
<line x1="219.30" y1="414.43" x2="221.70" y2="414.43" stroke="#222" stroke-width="0.7"/>
<rect x="237.50" y="451.44" width="10.20" height="8.16" fill="#a8a8a8" stroke="#222" stroke-width="0.9"/>
<line x1="242.60" y1="450.84" x2="242.60" y2="451.44" stroke="#222" stroke-width="0.8"/>
<line x1="241.40" y1="450.84" x2="243.80" y2="450.84" stroke="#222" stroke-width="0.7"/>
<text x="217.00" y="477.00" font-size="9.7" text-anchor="middle" fill="#1a1a1a" stroke="#1a1a1a" stroke-width="0.233">gamma</text>
<line x1="282.40" y1="408.70" x2="282.40" y2="458.50" stroke="#333" stroke-width="1.2"/>
<line x1="281.90" y1="458.00" x2="360.20" y2="458.00" stroke="#1a1a1a" stroke-width="1.4"/>
<line x1="280.90" y1="408.65" x2="282.40" y2="408.65" stroke="#222" stroke-width="0.7"/>
<text x="278.90" y="410.75" font-size="5.9" text-anchor="end" fill="#1a1a1a" stroke="#1a1a1a" stroke-width="0.142" transform="matrix(1 0 0 1.1 0 -41.075)">0.14</text>
<line x1="280.90" y1="415.70" x2="282.40" y2="415.70" stroke="#222" stroke-width="0.7"/>
<text x="278.90" y="417.80" font-size="5.9" text-anchor="end" fill="#1a1a1a" stroke="#1a1a1a" stroke-width="0.142" transform="matrix(1 0 0 1.1 0 -41.780)">0.12</text>
<line x1="280.90" y1="422.75" x2="282.40" y2="422.75" stroke="#222" stroke-width="0.7"/>
<text x="278.90" y="424.85" font-size="5.9" text-anchor="end" fill="#1a1a1a" stroke="#1a1a1a" stroke-width="0.142" transform="matrix(1 0 0 1.1 0 -42.485)">0.10</text>
<line x1="280.90" y1="429.80" x2="282.40" y2="429.80" stroke="#222" stroke-width="0.7"/>
<text x="278.90" y="431.90" font-size="5.9" text-anchor="end" fill="#1a1a1a" stroke="#1a1a1a" stroke-width="0.142" transform="matrix(1 0 0 1.1 0 -43.190)">0.08</text>
<line x1="280.90" y1="436.85" x2="282.40" y2="436.85" stroke="#222" stroke-width="0.7"/>
<text x="278.90" y="438.95" font-size="5.9" text-anchor="end" fill="#1a1a1a" stroke="#1a1a1a" stroke-width="0.142" transform="matrix(1 0 0 1.1 0 -43.895)">0.06</text>
<line x1="280.90" y1="443.90" x2="282.40" y2="443.90" stroke="#222" stroke-width="0.7"/>
<text x="278.90" y="446.00" font-size="5.9" text-anchor="end" fill="#1a1a1a" stroke="#1a1a1a" stroke-width="0.142" transform="matrix(1 0 0 1.1 0 -44.600)">0.04</text>
<line x1="280.90" y1="450.95" x2="282.40" y2="450.95" stroke="#222" stroke-width="0.7"/>
<text x="278.90" y="453.05" font-size="5.9" text-anchor="end" fill="#1a1a1a" stroke="#1a1a1a" stroke-width="0.142" transform="matrix(1 0 0 1.1 0 -45.305)">0.02</text>
<rect x="299.00" y="456.59" width="10.60" height="1.41" fill="#4a4a4a" stroke="#222" stroke-width="0.9"/>
<rect x="322.10" y="418.87" width="10.60" height="39.13" fill="#fff" stroke="#222" stroke-width="0.9"/>
<line x1="327.40" y1="413.58" x2="327.40" y2="418.87" stroke="#222" stroke-width="0.8"/>
<line x1="326.20" y1="413.58" x2="328.60" y2="413.58" stroke="#222" stroke-width="0.7"/>
<rect x="343.30" y="456.24" width="10.70" height="1.76" fill="#a8a8a8" stroke="#222" stroke-width="0.9"/>
<text x="327.90" y="477.00" font-size="9.7" text-anchor="middle" fill="#1a1a1a" stroke="#1a1a1a" stroke-width="0.233">epsilon</text>
<line x1="388.10" y1="408.70" x2="388.10" y2="458.10" stroke="#333" stroke-width="1.2"/>
<line x1="387.60" y1="457.60" x2="466.50" y2="457.60" stroke="#1a1a1a" stroke-width="1.4"/>
<line x1="386.60" y1="409.00" x2="388.10" y2="409.00" stroke="#222" stroke-width="0.7"/>
<text x="385.70" y="411.10" font-size="5.9" text-anchor="end" fill="#1a1a1a" stroke="#1a1a1a" stroke-width="0.142" transform="matrix(1 0 0 1.1 0 -41.110)">0.06</text>
<line x1="386.60" y1="417.10" x2="388.10" y2="417.10" stroke="#222" stroke-width="0.7"/>
<text x="385.70" y="419.20" font-size="5.9" text-anchor="end" fill="#1a1a1a" stroke="#1a1a1a" stroke-width="0.142" transform="matrix(1 0 0 1.1 0 -41.920)">0.05</text>
<line x1="386.60" y1="425.20" x2="388.10" y2="425.20" stroke="#222" stroke-width="0.7"/>
<text x="385.70" y="427.30" font-size="5.9" text-anchor="end" fill="#1a1a1a" stroke="#1a1a1a" stroke-width="0.142" transform="matrix(1 0 0 1.1 0 -42.730)">0.04</text>
<line x1="386.60" y1="433.30" x2="388.10" y2="433.30" stroke="#222" stroke-width="0.7"/>
<text x="385.70" y="435.40" font-size="5.9" text-anchor="end" fill="#1a1a1a" stroke="#1a1a1a" stroke-width="0.142" transform="matrix(1 0 0 1.1 0 -43.540)">0.03</text>
<line x1="386.60" y1="441.40" x2="388.10" y2="441.40" stroke="#222" stroke-width="0.7"/>
<text x="385.70" y="443.50" font-size="5.9" text-anchor="end" fill="#1a1a1a" stroke="#1a1a1a" stroke-width="0.142" transform="matrix(1 0 0 1.1 0 -44.350)">0.02</text>
<line x1="386.60" y1="449.50" x2="388.10" y2="449.50" stroke="#222" stroke-width="0.7"/>
<text x="385.70" y="451.60" font-size="5.9" text-anchor="end" fill="#1a1a1a" stroke="#1a1a1a" stroke-width="0.142" transform="matrix(1 0 0 1.1 0 -45.160)">0.01</text>
<rect x="405.00" y="453.71" width="11.00" height="3.89" fill="#4a4a4a" stroke="#222" stroke-width="0.9"/>
<rect x="428.00" y="417.91" width="11.00" height="39.69" fill="#fff" stroke="#222" stroke-width="0.9"/>
<line x1="433.50" y1="414.67" x2="433.50" y2="417.91" stroke="#222" stroke-width="0.8"/>
<line x1="432.30" y1="414.67" x2="434.70" y2="414.67" stroke="#222" stroke-width="0.7"/>
<rect x="449.40" y="452.42" width="11.00" height="5.18" fill="#a8a8a8" stroke="#222" stroke-width="0.9"/>
<text x="433.40" y="477.00" font-size="9.7" text-anchor="middle" fill="#1a1a1a" stroke="#1a1a1a" stroke-width="0.233">Alas-E</text>
</svg>
</body></html>
